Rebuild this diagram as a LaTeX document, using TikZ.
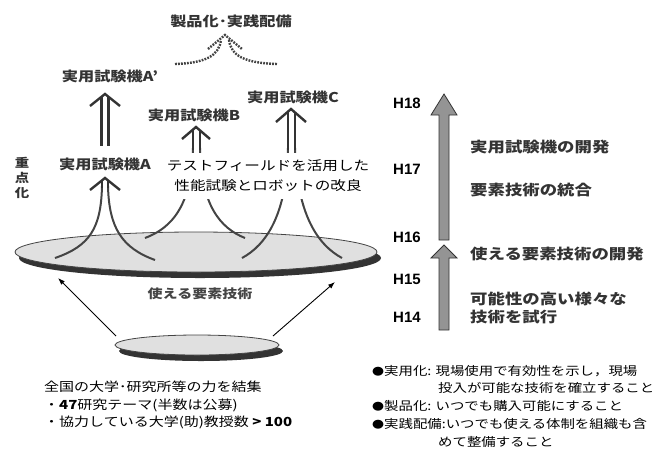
\documentclass[tikz,border=0pt]{standalone}
\usepackage{fontspec}
\setmainfont{Noto Sans CJK JP}[FakeStretch=1.2]
\newfontfamily\hfont{Liberation Sans}
\usetikzlibrary{arrows.meta,shapes.geometric,shadows}
\definecolor{dk}{HTML}{333333}
\definecolor{md}{HTML}{444444}
\definecolor{lg}{HTML}{E0E0E0}
\definecolor{ag}{HTML}{949494}
\tikzset{
  lab/.style={text=dk, inner sep=1pt, font=\bfseries\fontsize{13.5}{16}\selectfont},
  rlab/.style={text=dk, anchor=west, inner sep=0pt, font=\bfseries\fontsize{14.5}{17}\selectfont},
  hlab/.style={text=black, anchor=west, inner sep=0pt, font=\hfont\bfseries\fontsize{15}{17}\selectfont},
  blab/.style={text=black, anchor=west, inner sep=0pt, font=\fontsize{12}{14}\selectfont},
  dbl/.style={draw=dk, line width=2.4pt},
  flow/.style={draw=md, line width=2pt},
  dotl/.style={draw=md, line width=2.4pt, dash pattern=on 1.8pt off 1.2pt},
  thinarrow/.style={draw=black, line width=0.9pt, -{Latex[length=7pt,width=5pt]}},
  disc/.style={ellipse, fill=lg, draw=md, line width=0.8pt,
     drop shadow={shadow xshift=4pt, shadow yshift=-6pt, fill=dk, opacity=1}},
  garrow/.style={fill=ag, draw=dk, line width=0.8pt}
}
\begin{document}
\begin{tikzpicture}[x=1pt,y=-1pt]
\useasboundingbox (0,0) rectangle (661,448);

% discs
\node[disc, minimum width=362pt, minimum height=40pt] (big) at (196,252) {};
\node[disc, minimum width=164pt, minimum height=20pt] (small) at (197,345) {};

% flow curves from the disc
\draw[flow] (102,186) .. controls (101,228) and (90,246) .. (55,258);
\draw[flow] (108,186) .. controls (109,228) and (122,248) .. (155,260);
\draw[flow] (193,148) .. controls (192,205) and (172,228) .. (145,238);
\draw[flow] (200,148) .. controls (201,205) and (220,228) .. (245,238);
\draw[flow] (288,148) .. controls (287,215) and (266,245) .. (242,258);
\draw[flow] (295,148) .. controls (297,215) and (318,245) .. (342,258);

% heads and double lines
% A
\draw[dbl] (90,190) -- (105,178) -- (120,190);
\draw[dbl] (102,180) -- (102,188); \draw[dbl] (108,180) -- (108,188);
% A'
\draw[dbl] (90,106) -- (105,94) -- (120,106);
\draw[dbl] (101.5,97) -- (101.5,146); \draw[dbl] (108.5,97) -- (108.5,146);
% B
\draw[dbl] (182,139) -- (196,127) -- (210,139);
\draw[dbl] (193,130) -- (193,150); \draw[dbl] (200,130) -- (200,150);
% C
\draw[dbl] (276,122) -- (291,109) -- (306,122);
\draw[dbl] (288,112) -- (288,150); \draw[dbl] (295,112) -- (295,150);

% dotted convergence at top
\draw[dotl] (208,49) -- (225,35) -- (242,49);
\draw[dotl] (175,64) .. controls (205,63) and (219,56) .. (221,40);
\draw[dotl] (229,40) .. controls (231,56) and (245,63) .. (277,64);

% labels
\node[lab] (top) at (231,21) {製品化･実践配備};
\node[lab] (ap) at (110,76) {実用試験機A'};
\node[lab] (b) at (194,115) {実用試験機B};
\node[lab] (c) at (293,97) {実用試験機C};
\node[lab] (a) at (105,164) {実用試験機A};
\node[text=dk, align=center, inner sep=0pt, font=\bfseries\fontsize{12}{15}\selectfont] (jt) at (22,178) {重\\点\\化};
\node[fill=white, inner xsep=4pt, inner ysep=7pt, align=center, text=black,
      font=\fontsize{13}{20}\selectfont] (tf) at (268,176) {テストフィールドを活用した\\性能試験とロボットの改良};
\node[text=md, font=\bfseries\fontsize{12.5}{15}\selectfont] (use) at (200,294) {使える要素技術};

% arrows from small disc to big disc
\coordinate (sl) at (116,336);
\coordinate (sr) at (273,336);
\coordinate (bl) at (58,278);
\coordinate (br) at (335,282);
\draw[thinarrow] (sl) -- (bl);
\draw[thinarrow] (sr) -- (br);

% bottom-left text
\node[anchor=west, align=left, inner sep=0pt, text=black, font=\fontsize{12.5}{17.5}\selectfont] (nat) at (44,405)
 {全国の大学･研究所等の力を結集\\・\textbf{47}研究テーマ(半数は公募)\\・協力している大学(助)教授数 \textbf{> 100}};

% timeline arrows
\draw[garrow] (439,240) -- (439,115) -- (431,115) -- (444,94) -- (457,115) -- (449,115) -- (449,240) -- cycle;
\draw[garrow] (439,330) -- (439,258) -- (431,258) -- (444,245) -- (457,258) -- (449,258) -- (449,330) -- cycle;

\node[hlab] (h18) at (393,103) {H18};
\node[hlab] (h17) at (393,169) {H17};
\node[hlab] (h16) at (393,237) {H16};
\node[hlab] (h15) at (393,279) {H15};
\node[hlab] (h14) at (393,317) {H14};

\node[rlab] (r1) at (470,147) {実用試験機の開発};
\node[rlab] (r2) at (470,190) {要素技術の統合};
\node[rlab] (r3) at (470,254) {使える要素技術の開発};
\node[rlab] (r4) at (470,299) {可能性の高い様々な};
\node[rlab] (r5) at (470,317) {技術を試行};

% bottom-right definitions
\node[blab] (d1) at (372,371) {{\fontsize{10}{14}\selectfont ●}実用化: 現場使用で有効性を示し，現場};
\node[blab] (d2) at (438,388) {投入が可能な技術を確立すること};
\node[blab] (d3) at (372,406) {{\fontsize{10}{14}\selectfont ●}製品化: いつでも購入可能にすること};
\node[blab] (d4) at (372,424) {{\fontsize{10}{14}\selectfont ●}実践配備:いつでも使える体制を組織も含};
\node[blab] (d5) at (438,442) {めて整備すること};
\end{tikzpicture}
\end{document}
